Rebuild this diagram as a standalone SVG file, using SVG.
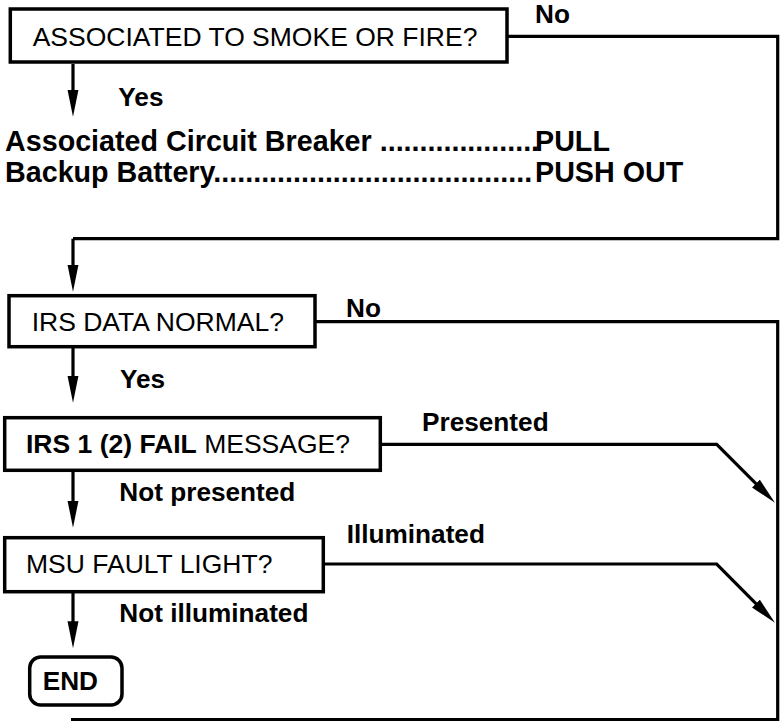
<svg xmlns="http://www.w3.org/2000/svg" width="783" height="721" viewBox="0 0 783 721">
<style>
text{font-family:"Liberation Sans",Arial,Helvetica,sans-serif;fill:#000}
.box{fill:#fff;stroke:#000;stroke-width:3.5}
.t{font-size:26.5px}
.lbl{font-size:26.2px;font-weight:bold}
.body{font-size:28.7px;font-weight:bold}
.b{font-weight:bold}
.ln{fill:none;stroke:#000;stroke-width:3.2;stroke-linejoin:miter}
.arr{marker-end:url(#ah)}
</style>
<defs>
<marker id="ah" markerUnits="userSpaceOnUse" markerWidth="28" markerHeight="12" refX="17" refY="5.5" orient="auto">
<path d="M0,0 L27,5.5 L0,11 Z" fill="#000"/>
</marker>
</defs>
<rect width="783" height="721" fill="#fff"/>
<g id="connectors">
<path class="ln" d="M507,36.3 H777.7 V238.7 H73"/>
<path class="ln arr" d="M73,238.7 V281.7"/>
<path class="ln arr" d="M73,64 V106.7"/>
<path class="ln arr" d="M73,348 V392.7"/>
<path class="ln arr" d="M73,472 V517.7"/>
<path class="ln arr" d="M73,593 V638.3"/>
<path class="ln" d="M315,321.7 H777.7 V719.5 H71"/>
<path class="ln arr" d="M380.3,444.3 H716.7 L767.9,495.6"/>
<path class="ln arr" d="M323.3,564 H716.7 L767.9,615.6"/>
</g>
<g id="q-smoke">
<rect class="box" x="10.3" y="9" width="496.7" height="53"/>
<text class="t" x="32.7" y="45.7">ASSOCIATED TO SMOKE OR FIRE?</text>
</g>
<g id="lbl-no1"><text class="lbl" x="535" y="23.3">No</text></g>
<g id="lbl-yes1"><text class="lbl" x="118.3" y="106">Yes</text></g>
<g id="actions">
<text class="body" x="5" y="151">Associated Circuit Breaker ....................<tspan x="535">PULL</tspan></text>
<text class="body" x="5" y="182">Backup Battery........................................<tspan x="535">PUSH OUT</tspan></text>
</g>
<g id="q-irs-data">
<rect class="box" x="9" y="295.7" width="306" height="51"/>
<text class="t" x="31.7" y="330.7">IRS DATA NORMAL?</text>
</g>
<g id="lbl-no2"><text class="lbl" x="346" y="316.7">No</text></g>
<g id="lbl-yes2"><text class="lbl" x="120" y="388.3">Yes</text></g>
<g id="q-irs-fail">
<rect class="box" x="4.7" y="417.7" width="375.6" height="52.6"/>
<text class="t" x="26" y="453.3"><tspan class="b">IRS 1 (2) FAIL</tspan> MESSAGE?</text>
</g>
<g id="lbl-presented"><text class="lbl" x="422" y="430.5">Presented</text></g>
<g id="lbl-notpresented"><text class="lbl" x="119.3" y="501">Not presented</text></g>
<g id="q-msu">
<rect class="box" x="4.7" y="537.7" width="318.6" height="54"/>
<text class="t" x="26" y="573.3">MSU FAULT LIGHT?</text>
</g>
<g id="lbl-illuminated"><text class="lbl" x="346.7" y="543.3">Illuminated</text></g>
<g id="lbl-notilluminated"><text class="lbl" x="119.3" y="621.7">Not illuminated</text></g>
<g id="end">
<rect class="box" x="29.7" y="657" width="92.3" height="48" rx="11" ry="11"/>
<text class="lbl" x="42.7" y="690">END</text>
</g>
</svg>
